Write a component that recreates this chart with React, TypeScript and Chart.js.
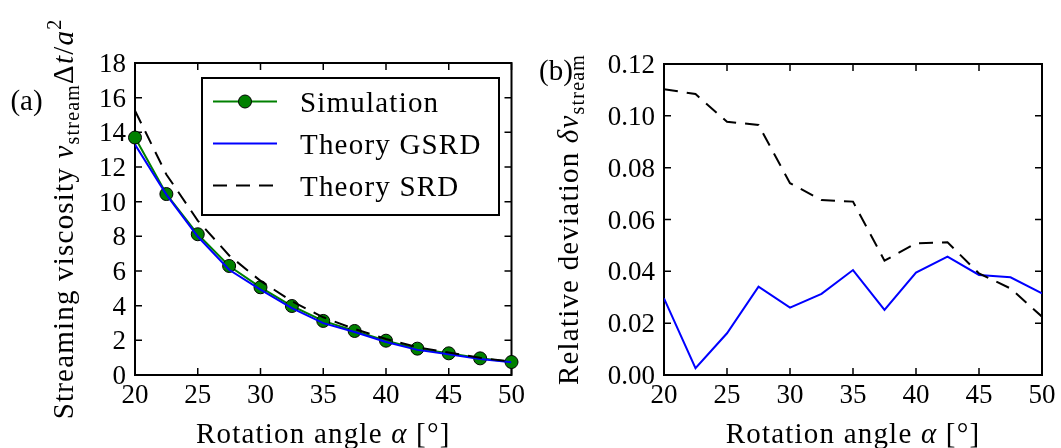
import React, { useEffect, useRef } from "react";
import { Chart, registerables } from "chart.js";

Chart.register(...registerables);

// ---------- data ----------
const angles = [20, 22.5, 25, 27.5, 30, 32.5, 35, 37.5, 40, 42.5, 45, 47.5, 50];
const simulationNu = [13.7, 10.44, 8.12, 6.29, 5.06, 3.98, 3.12, 2.54, 1.98, 1.52, 1.25, 0.96, 0.75];
const theoryGSRDNu = [13.29, 10.41, 7.99, 6.07, 4.93, 3.86, 2.99, 2.48, 1.9, 1.45, 1.2, 0.92, 0.73];
const theorySRDNu = [15.25, 11.57, 8.91, 6.9, 5.43, 4.25, 3.33, 2.65, 2.08, 1.6, 1.3, 0.99, 0.77];
const deviationGSRD = [0.0296, 0.0026, 0.0161, 0.0341, 0.026, 0.0313, 0.0405, 0.0251, 0.0395, 0.0457, 0.0386, 0.0377, 0.0315];
const deviationSRD = [0.1103, 0.1084, 0.0977, 0.0965, 0.074, 0.0675, 0.0669, 0.0441, 0.0508, 0.0512, 0.0392, 0.0334, 0.0225];

const xTickValues = [20, 25, 30, 35, 40, 45, 50];
const xTickLabels = ["20", "25", "30", "35", "40", "45", "50"];
const leftYTickValues = [0, 2, 4, 6, 8, 10, 12, 14, 16, 18];
const leftYTickLabels = ["0", "2", "4", "6", "8", "10", "12", "14", "16", "18"];
const rightYTickValues = [0, 0.02, 0.04, 0.06, 0.08, 0.1, 0.12];
const rightYTickLabels = ["0.00", "0.02", "0.04", "0.06", "0.08", "0.10", "0.12"];

const seriesNames = ["Simulation", "Theory GSRD", "Theory SRD"];

// ---------- styling ----------
const FONT = '"Liberation Serif", "Times New Roman", serif';
const FS = 27; // tick labels
const TS = 29; // titles, legend, panel labels
const SPACING = "1.2px";
const GREEN = "#008000";
const BLUE = "#0000ff";
const BLACK = "#000000";
const DASH = [14, 9];

type Seg = { t: string; it?: boolean; sc?: number; dy?: number };

function drawRich(
  ctx: CanvasRenderingContext2D,
  segs: Seg[],
  x: number,
  y: number,
  size: number,
  rotate: boolean,
  align: "center" | "left"
) {
  ctx.save();
  ctx.translate(x, y);
  if (rotate) ctx.rotate(-Math.PI / 2);
  ctx.textBaseline = "alphabetic";
  ctx.textAlign = "left";
  ctx.fillStyle = "#000";
  (ctx as any).letterSpacing = SPACING;
  const fontFor = (s: Seg) =>
    `${s.it ? "italic " : ""}${Math.round(size * (s.sc ?? 1))}px ${FONT}`;
  const widths = segs.map((s) => {
    ctx.font = fontFor(s);
    return ctx.measureText(s.t).width;
  });
  const total = widths.reduce((a, b) => a + b, 0);
  let cx = align === "center" ? -total / 2 : 0;
  segs.forEach((s, i) => {
    ctx.font = fontFor(s);
    ctx.fillText(s.t, cx, (s.dy ?? 0) * size);
    cx += widths[i];
  });
  ctx.restore();
}

const framePlugin = {
  id: "frame",
  beforeDatasetsDraw(chart: any) {
    const { ctx, chartArea: a, scales } = chart;
    const L = 7;
    ctx.save();
    ctx.strokeStyle = "#000";
    ctx.lineWidth = 1.5;
    ctx.beginPath();
    scales.x.ticks.forEach((t: any) => {
      const px = scales.x.getPixelForValue(t.value);
      ctx.moveTo(px, a.bottom);
      ctx.lineTo(px, a.bottom - L);
      ctx.moveTo(px, a.top);
      ctx.lineTo(px, a.top + L);
    });
    scales.y.ticks.forEach((t: any) => {
      const py = scales.y.getPixelForValue(t.value);
      ctx.moveTo(a.left, py);
      ctx.lineTo(a.left + L, py);
      ctx.moveTo(a.right, py);
      ctx.lineTo(a.right - L, py);
    });
    ctx.stroke();
    ctx.lineWidth = 2;
    ctx.strokeRect(a.left, a.top, a.right - a.left, a.bottom - a.top);
    ctx.restore();
  },
};

const decorPlugin = {
  id: "decor",
  afterDraw(chart: any, _args: any, opts: any) {
    const { ctx, chartArea: a } = chart;
    if (opts.xTitle) {
      drawRich(ctx, opts.xTitle, (a.left + a.right) / 2, opts.xTitleBaseline, TS, false, "center");
    }
    if (opts.yTitle) {
      drawRich(ctx, opts.yTitle, opts.yTitleX, (a.top + a.bottom) / 2, TS, true, "center");
    }
    if (opts.panel) {
      ctx.save();
      ctx.font = `${TS}px ${FONT}`;
      ctx.fillStyle = "#000";
      ctx.textAlign = "center";
      ctx.textBaseline = "alphabetic";
      ctx.fillText(opts.panel.text, opts.panel.x, opts.panel.y);
      ctx.restore();
    }
    if (opts.legend) {
      const lg = opts.legend;
      const bx = a.left + lg.dx;
      const by = a.top + lg.dy;
      ctx.save();
      ctx.fillStyle = "#fff";
      ctx.fillRect(bx, by, lg.w, lg.h);
      ctx.strokeStyle = "#000";
      ctx.lineWidth = 2;
      ctx.strokeRect(bx, by, lg.w, lg.h);
      chart.data.datasets.forEach((ds: any, i: number) => {
        const ry = by + lg.firstRow + i * lg.rowGap;
        ctx.save();
        ctx.strokeStyle = ds.borderColor;
        ctx.lineWidth = ds.borderWidth;
        ctx.setLineDash(ds.borderDash || []);
        ctx.beginPath();
        ctx.moveTo(bx + 11, ry);
        ctx.lineTo(bx + 75, ry);
        ctx.stroke();
        ctx.setLineDash([]);
        if (ds.pointRadius > 0) {
          ctx.beginPath();
          ctx.arc(bx + 43, ry, ds.pointRadius, 0, Math.PI * 2);
          ctx.fillStyle = ds.pointBackgroundColor;
          ctx.fill();
          ctx.strokeStyle = ds.pointBorderColor;
          ctx.lineWidth = ds.pointBorderWidth;
          ctx.stroke();
        }
        ctx.restore();
        ctx.save();
        ctx.fillStyle = "#000";
        ctx.font = `${TS}px ${FONT}`;
        (ctx as any).letterSpacing = SPACING;
        ctx.textAlign = "left";
        ctx.textBaseline = "alphabetic";
        ctx.fillText(ds.label, bx + 98, ry + 10);
        ctx.restore();
      });
      ctx.restore();
    }
  },
};

const pts = (ys: number[]) => angles.map((x, i) => ({ x, y: ys[i] }));

function fixedTicks(values: number[]) {
  return (scale: any) => {
    scale.ticks = values.map((v) => ({ value: v }));
  };
}

function makeScales(yVals: number[], yLabels: string[], yMax: number, yWidth: number, xHeight: number) {
  const tickFont = { family: FONT, size: FS };
  return {
    x: {
      type: "linear" as const,
      min: 20,
      max: 50,
      afterBuildTicks: fixedTicks(xTickValues),
      afterFit: (s: any) => {
        s.height = xHeight;
      },
      grid: { display: false, drawTicks: false },
      border: { display: false },
      ticks: {
        font: tickFont,
        color: "#000",
        padding: 5,
        maxRotation: 0,
        autoSkip: false,
        callback: (_v: any, i: number) => xTickLabels[i],
      },
    },
    y: {
      type: "linear" as const,
      min: 0,
      max: yMax,
      afterBuildTicks: fixedTicks(yVals),
      afterFit: (s: any) => {
        s.width = yWidth;
      },
      grid: { display: false, drawTicks: false },
      border: { display: false },
      ticks: {
        font: tickFont,
        color: "#000",
        padding: 9,
        autoSkip: false,
        labelOffset: 2,
        callback: (_v: any, i: number) => yLabels[i],
      },
    },
  };
}

const xTitleSegs: Seg[] = [{ t: "Rotation angle " }, { t: "α", it: true }, { t: " [°]" }];

export default function App() {
  const leftRef = useRef<HTMLCanvasElement>(null);
  const rightRef = useRef<HTMLCanvasElement>(null);

  useEffect(() => {
    const left = new Chart(leftRef.current as HTMLCanvasElement, {
      type: "line",
      data: {
        datasets: [
          {
            label: seriesNames[0],
            data: pts(simulationNu),
            borderColor: GREEN,
            borderWidth: 2,
            pointRadius: 6.5,
            pointBackgroundColor: GREEN,
            pointBorderColor: BLACK,
            pointBorderWidth: 1,
            tension: 0,
            clip: false as any,
            order: 3,
          },
          {
            label: seriesNames[1],
            data: pts(theoryGSRDNu),
            borderColor: BLUE,
            borderWidth: 2,
            pointRadius: 0,
            tension: 0,
            order: 2,
          },
          {
            label: seriesNames[2],
            data: pts(theorySRDNu),
            borderColor: BLACK,
            borderWidth: 2,
            borderDash: DASH,
            pointRadius: 0,
            tension: 0,
            order: 1,
          },
        ],
      },
      options: {
        responsive: false,
        animation: false,
        layout: { padding: { top: 63, right: 17, left: 0, bottom: 0 } },
        scales: makeScales(leftYTickValues, leftYTickLabels, 18, 135, 73) as any,
        plugins: {
          legend: { display: false },
          tooltip: { enabled: false },
          decor: {
            xTitle: xTitleSegs,
            xTitleBaseline: 443,
            yTitle: [
              { t: "Streaming viscosity " },
              { t: "ν", it: true },
              { t: "stream", sc: 0.7, dy: 0.2 },
              { t: "Δ" },
              { t: "t", it: true },
              { t: "/" },
              { t: "a", it: true },
              { t: "2", sc: 0.7, dy: -0.42 },
            ],
            yTitleX: 73,
            panel: { text: "(a)", x: 26.5, y: 110 },
            legend: { dx: 67, dy: 15, w: 297, h: 137, firstRow: 23.5, rowGap: 42 },
          },
        } as any,
      },
      plugins: [framePlugin, decorPlugin],
    });

    const right = new Chart(rightRef.current as HTMLCanvasElement, {
      type: "line",
      data: {
        datasets: [
          {
            label: seriesNames[1],
            data: pts(deviationGSRD),
            borderColor: BLUE,
            borderWidth: 2,
            pointRadius: 0,
            tension: 0,
            order: 2,
          },
          {
            label: seriesNames[2],
            data: pts(deviationSRD),
            borderColor: BLACK,
            borderWidth: 2,
            borderDash: DASH,
            pointRadius: 0,
            tension: 0,
            order: 1,
          },
        ],
      },
      options: {
        responsive: false,
        animation: false,
        layout: { padding: { top: 64, right: 19, left: 0, bottom: 0 } },
        scales: makeScales(rightYTickValues, rightYTickLabels, 0.12, 134, 73) as any,
        plugins: {
          legend: { display: false },
          tooltip: { enabled: false },
          decor: {
            xTitle: xTitleSegs,
            xTitleBaseline: 443,
            yTitle: [
              { t: "Relative deviation " },
              { t: "δν", it: true },
              { t: "stream", sc: 0.7, dy: 0.2 },
            ],
            yTitleX: 48,
            panel: { text: "(b)", x: 26, y: 80 },
          },
        } as any,
      },
      plugins: [framePlugin, decorPlugin],
    });

    return () => {
      left.destroy();
      right.destroy();
    };
  }, []);

  return (
    <div style={{ position: "absolute", left: 0, top: 0, width: 1061, height: 448, background: "#fff" }}>
      <canvas ref={leftRef} width={530} height={448} style={{ position: "absolute", left: 0, top: 0 }} />
      <canvas ref={rightRef} width={531} height={448} style={{ position: "absolute", left: 530, top: 0 }} />
    </div>
  );
}
